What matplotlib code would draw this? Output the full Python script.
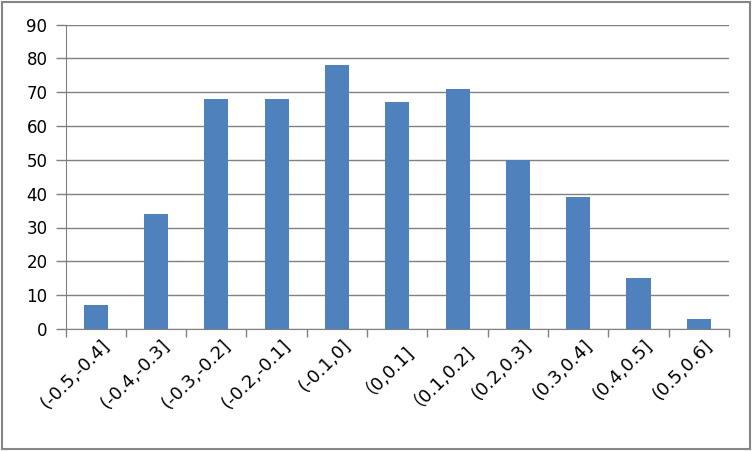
import matplotlib.pyplot as plt
import numpy as np
from matplotlib.patches import Rectangle

plt.rcParams['font.family'] = ['DejaVu Sans', 'Noto Sans CJK SC']

#data
bins = ["(-0.5,-0.4]", "(-0.4,-0.3]", "(-0.3,-0.2]", "(-0.2,-0.1]", "(-0.1,0]",
        "（0,0.1]", "（0.1,0.2]", "(0.2,0.3]", "(0.3,0.4]", "(0.4,0.5]", "(0.5,0.6]"]
counts = [7, 34, 68, 68, 78, 67, 71, 50, 39, 15, 3]
yticks = [0, 10, 20, 30, 40, 50, 60, 70, 80, 90]

fig = plt.figure(figsize=(7.53, 4.51), dpi=100)
ax = fig.add_axes([65.5/753, 1-329/451, (729-65.5)/753, (329-24.5)/451])

x = np.arange(len(bins))
ax.bar(x, counts, width=0.4, color="#4F81BD", zorder=3)

ax.set_xlim(-0.5, len(bins)-0.5)
ax.set_ylim(0, 90)
ax.set_yticks(yticks)
ax.tick_params(axis="y", labelsize=12, length=7, color="#808080", width=1, pad=6)

# category ticks at boundaries
ax.set_xticks(np.arange(len(bins)+1)-0.5)
ax.set_xticklabels([])
ax.tick_params(axis="x", which="major", length=6, color="#808080", width=1)
ax.set_xticks(x + 0.08, minor=True)
ax.set_xticklabels(bins, minor=True, rotation=45, ha="right", rotation_mode="anchor", fontsize=13)
ax.tick_params(axis="x", which="minor", length=0, pad=5)

ax.grid(axis="y", color="#808080", linewidth=1, zorder=0)
for s in ["top", "right"]:
    ax.spines[s].set_visible(False)
ax.spines["left"].set_color("#808080")
ax.spines["bottom"].set_color("#808080")

fig.patches.append(Rectangle((2/753, 2/451), 748/753, 447/451, transform=fig.transFigure,
                             fill=False, edgecolor="#868686", linewidth=1.5))

plt.savefig("out.png", dpi=100)
